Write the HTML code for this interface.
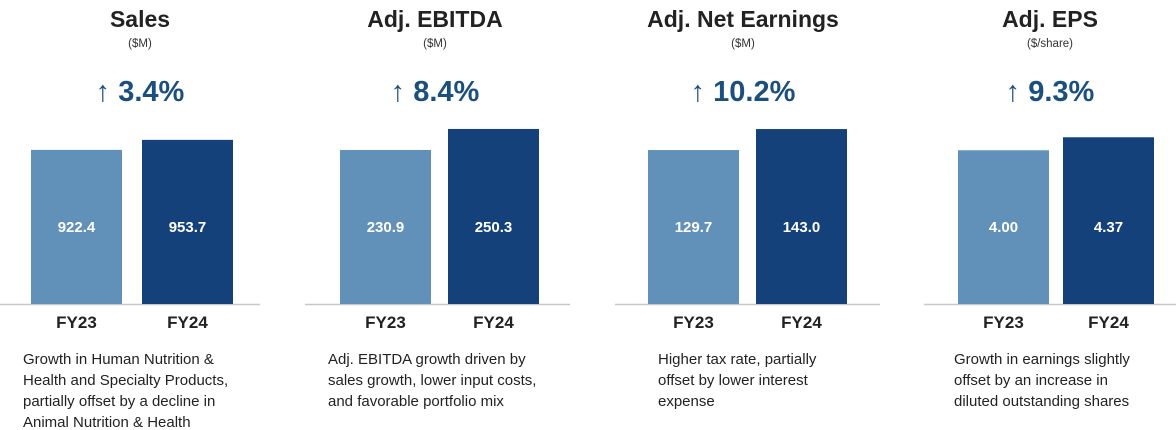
<!DOCTYPE html>
<html><head><meta charset="utf-8"><style>
body{margin:0;width:1176px;height:430px;background:#fff;overflow:hidden;font-family:"Liberation Sans",sans-serif}
svg{display:block}
</style></head><body>
<svg id="c" width="1176" height="430"></svg>
<script>
const titles=["Sales","Adj. EBITDA","Adj. Net Earnings","Adj. EPS"];
const units=["($M)","($M)","($M)","($/share)"];
const growth=["3.4%","8.4%","10.2%","9.3%"];
const categories=["FY23","FY24"];
const fy23=[922.4,230.9,129.7,4.00];
const fy24=[953.7,250.3,143.0,4.37];
const labels23=["922.4","230.9","129.7","4.00"];
const labels24=["953.7","250.3","143.0","4.37"];
const notes=[["Growth in Human Nutrition &","Health and Specialty Products,","partially offset by a decline in","Animal Nutrition & Health"],
["Adj. EBITDA growth driven by","sales growth, lower input costs,","and favorable portfolio mix"],
["Higher tax rate, partially","offset by lower interest","expense"],
["Growth in earnings slightly","offset by an increase in","diluted outstanding shares"]];
// axis config per panel (domain floor and px per unit)
const axLo=[440,88.6,32.2,-0.38];
const axScale=[0.3195,1.0825,1.579,35.1];
const barX=[31,340,648,958], gapX=[111,108,108,105], titleX=[140,435,743,1050], noteX=[23,328,658,954];
const lineX=[[0,260],[305,570],[615,880],[924,1176]];
const base=304, W=91;
const svg=document.getElementById('c'), NS="http://www.w3.org/2000/svg";
function mk(t,a,txt){const e=document.createElementNS(NS,t);for(const k in a)e.setAttribute(k,a[k]);if(txt!=null)e.textContent=txt;svg.appendChild(e);return e;}
function y(p,v){return base-(v-axLo[p])*axScale[p];}
for(let p=0;p<4;p++){
 let e=mk('text',{x:titleX[p],y:27,'text-anchor':'middle','font-size':23,'font-weight':'bold',fill:'#222'},titles[p]);
 
 
 e=mk('text',{x:titleX[p],y:47,'text-anchor':'middle','font-size':11.5,fill:'#333'},units[p]);
 
 
 e=mk('text',{x:titleX[p],y:101,'text-anchor':'middle','font-size':29,'font-weight':'bold',fill:'#1b4f7e'},"\u2191 "+growth[p]);
 
 
 e=mk('line',{x1:lineX[p][0],x2:lineX[p][1],y1:base+0.5,y2:base+0.5,stroke:'#c8c8c8','stroke-width':1.5});
 
 
 const vals=[fy23[p],fy24[p]], labs=[labels23[p],labels24[p]], cols=['#6190b9','#15417b'];
 for(let i=0;i<2;i++){
  const x=barX[p]+i*gapX[p], t=y(p,vals[i]);
  e=mk('rect',{x:x,y:t,width:W,height:base-t,fill:cols[i]});
  
  
  e=mk('text',{x:x+W/2,y:232,'text-anchor':'middle','font-size':15,'font-weight':'bold',fill:'#fff'},labs[i]);
  
  
  e=mk('text',{x:x+W/2,y:328,'text-anchor':'middle','font-size':17,'font-weight':'bold',fill:'#222'},categories[i]);
  
  
 }
 notes[p].forEach((l,j)=>{
  const n=mk('text',{x:noteX[p],y:364+j*21,'font-size':15,fill:'#222'},l);
  
  
 });
}
</script>
</body></html>
